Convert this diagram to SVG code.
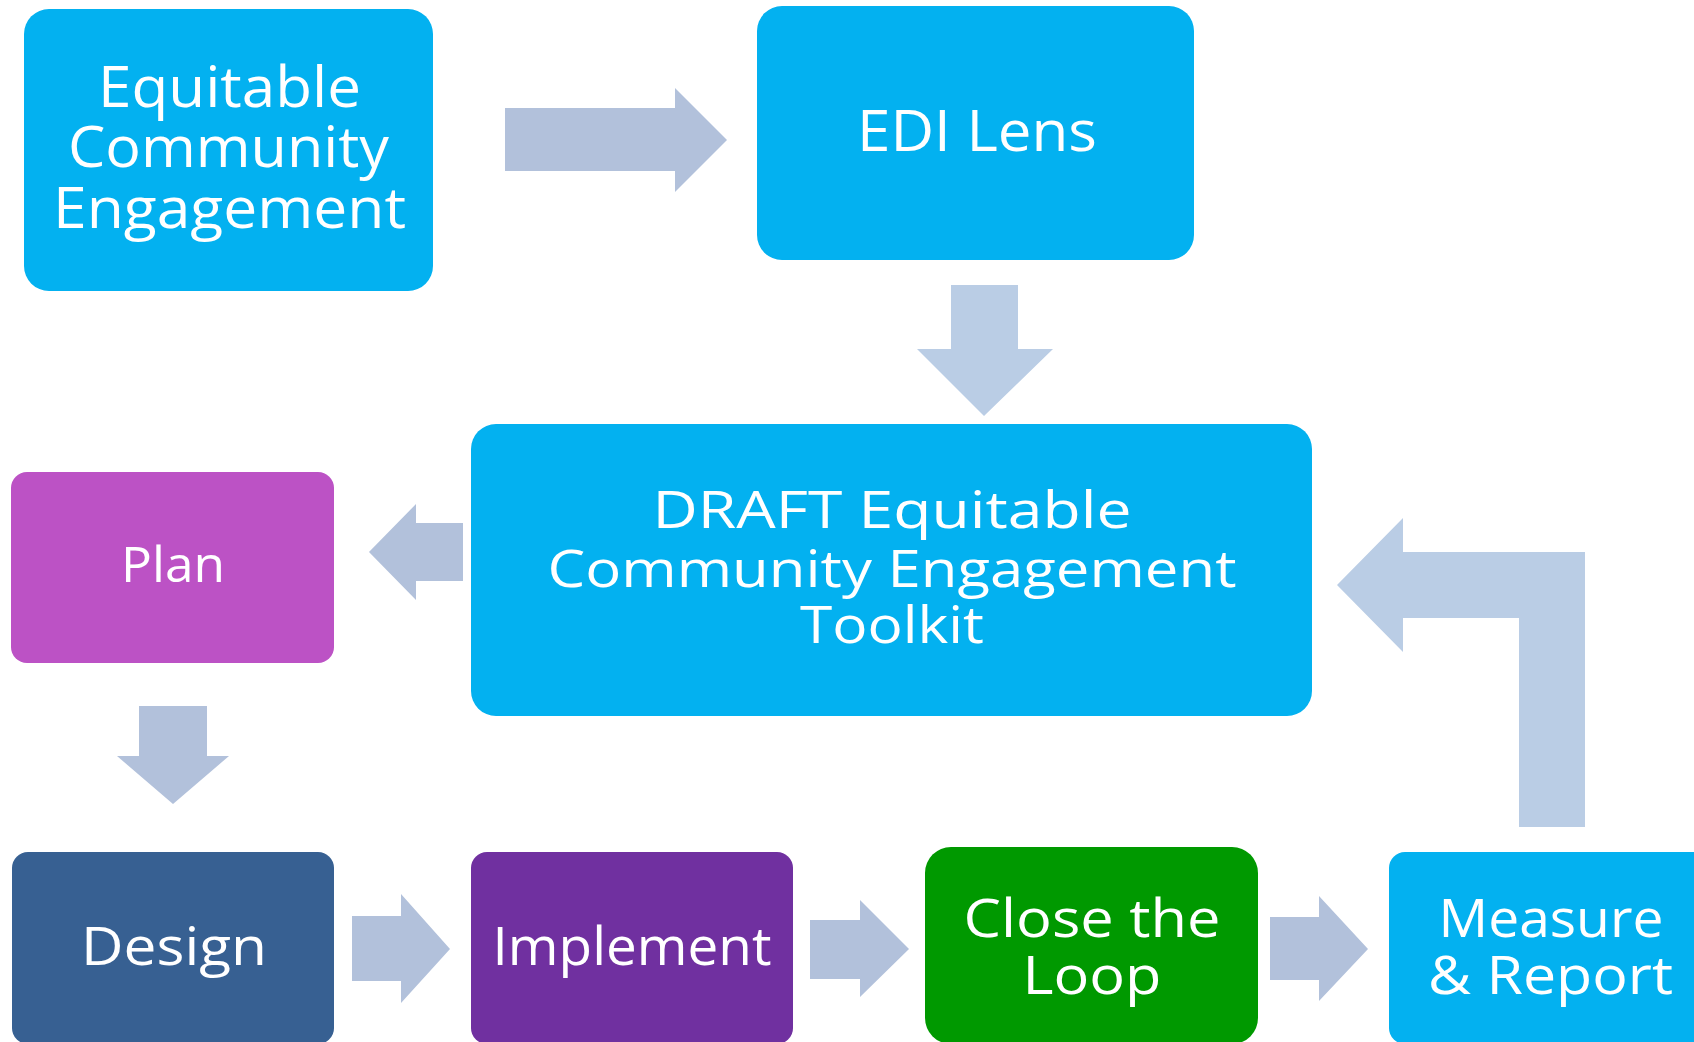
<svg xmlns="http://www.w3.org/2000/svg" width="1694" height="1042" viewBox="0 0 1694 1042">
<style>
  .lbl { font-family: "Open Sans", "Liberation Sans", sans-serif; fill: #ffffff; text-anchor: middle; }
  .arrA { fill: #B2C1DB; }
  .arrB { fill: #BACDE5; }
  .blue { fill: #03B1F0; }
</style>
<rect width="1694" height="1042" fill="#ffffff"/>
<g id="connectors">
  <polygon class="arrA" points="505,108 675,108 675,88 727,140 675,192 675,171 505,171"/>
  <polygon class="arrB" points="951,285 1018,285 1018,349 1053,349 984,416 917,349 951,349"/>
  <polygon class="arrA" points="463,523 416,523 416,504 369,552 416,600 416,581 463,581"/>
  <polygon class="arrA" points="139,706 207,706 207,756 229,756 173,804 117,756 139,756"/>
  <polygon class="arrA" points="352,916 401,916 401,894 450,949 401,1003 401,981 352,981"/>
  <polygon class="arrA" points="810,920 860,920 860,900 909,949 860,997 860,979 810,979"/>
  <polygon class="arrA" points="1270,917 1319,917 1319,896 1368,949 1319,1001 1319,980 1270,980"/>
  <polygon class="arrB" points="1585,827 1519,827 1519,618 1403,618 1403,652 1337,585 1403,518 1403,552 1585,552"/>
</g>
<g id="n-ece">
  <rect class="blue" x="24" y="9" width="409" height="282" rx="25"/>
  <text class="lbl" font-size="57" x="229.5" y="107" textLength="263" lengthAdjust="spacingAndGlyphs">Equitable</text>
  <text class="lbl" font-size="57" x="228.5" y="167" textLength="321" lengthAdjust="spacingAndGlyphs">Community</text>
  <text class="lbl" font-size="57" x="229.5" y="228" textLength="353" lengthAdjust="spacingAndGlyphs">Engagement</text>
</g>
<g id="n-edi">
  <rect class="blue" x="757" y="6" width="437" height="254" rx="25"/>
  <text class="lbl" font-size="56" x="977" y="151" textLength="240" lengthAdjust="spacingAndGlyphs">EDI Lens</text>
</g>
<g id="n-draft">
  <rect class="blue" x="471" y="424" width="841" height="292" rx="25"/>
  <text class="lbl" font-size="52" x="892" y="528" textLength="479" lengthAdjust="spacingAndGlyphs">DRAFT Equitable</text>
  <text class="lbl" font-size="52" x="892" y="587" textLength="689" lengthAdjust="spacingAndGlyphs">Community Engagement</text>
  <text class="lbl" font-size="52" x="892" y="643" textLength="184" lengthAdjust="spacingAndGlyphs">Toolkit</text>
</g>
<g id="n-plan">
  <rect x="11" y="472" width="323" height="191" rx="16" fill="#BC52C5"/>
  <text class="lbl" font-size="50" x="173" y="582" textLength="104" lengthAdjust="spacingAndGlyphs">Plan</text>
</g>
<g id="n-design">
  <rect x="12" y="852" width="322" height="192" rx="16" fill="#376092"/>
  <text class="lbl" font-size="53" x="174" y="965" textLength="186" lengthAdjust="spacingAndGlyphs">Design</text>
</g>
<g id="n-implement">
  <rect x="471" y="852" width="322" height="192" rx="16" fill="#7030A0"/>
  <text class="lbl" font-size="53" x="632" y="965" textLength="279" lengthAdjust="spacingAndGlyphs">Implement</text>
</g>
<g id="n-close">
  <rect x="925" y="847" width="333" height="197" rx="26" fill="#009900"/>
  <text class="lbl" font-size="53" x="1092" y="937" textLength="257" lengthAdjust="spacingAndGlyphs">Close the</text>
  <text class="lbl" font-size="53" x="1092" y="994" textLength="139" lengthAdjust="spacingAndGlyphs">Loop</text>
</g>
<g id="n-measure">
  <rect class="blue" x="1389" y="852" width="340" height="192" rx="16"/>
  <text class="lbl" font-size="53" x="1551" y="937" textLength="225" lengthAdjust="spacingAndGlyphs">Measure</text>
  <text class="lbl" font-size="53" x="1550.5" y="994" textLength="245" lengthAdjust="spacingAndGlyphs">&amp; Report</text>
</g>
</svg>
